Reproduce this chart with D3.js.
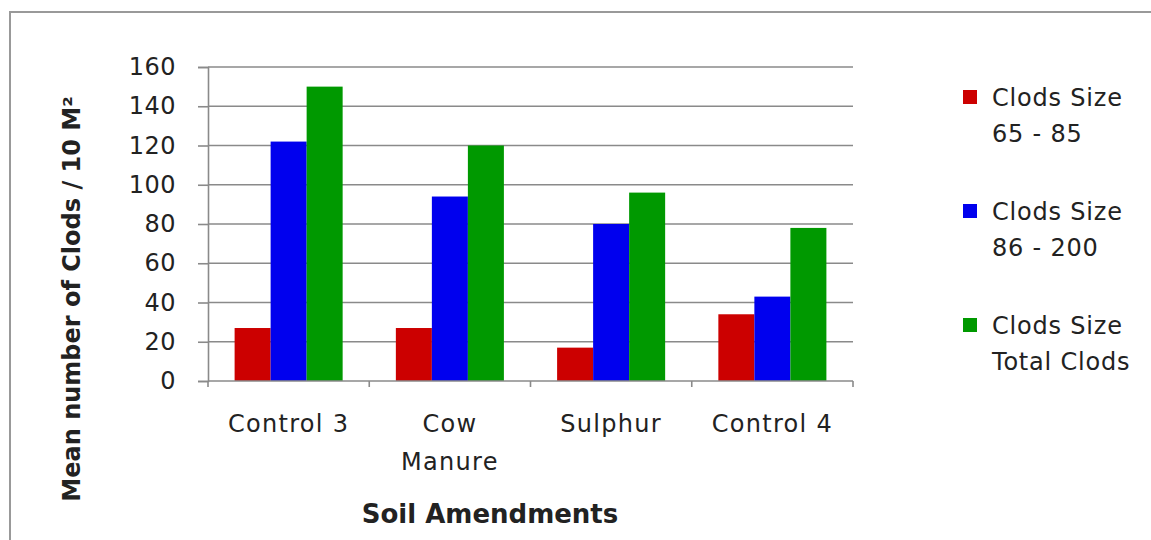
<!DOCTYPE html>
<html><head><meta charset="utf-8">
<script src="https://cdnjs.cloudflare.com/ajax/libs/d3/7.8.5/d3.min.js"></script>
<style>body{margin:0;background:#fff}svg{display:block}text{font-family:"DejaVu Sans",sans-serif;fill:#222}</style>
</head><body><svg id="c" width="1151" height="540"></svg>
<script>
const categories = [["Control 3"], ["Cow", "Manure"], ["Sulphur"], ["Control 4"]];
const seriesNames = [["Clods Size", "65 - 85"], ["Clods Size", "86 - 200"], ["Clods Size", "Total Clods"]];
const seriesColors = ["#cc0000", "#0000ee", "#009900"];
const small = [27, 27, 17, 34];
const medium = [122, 94, 80, 43];
const total = [150, 120, 96, 78];
const yTicks = [0, 20, 40, 60, 80, 100, 120, 140, 160];
const yTitle = "Mean number of Clods / 10 M²";
const xTitle = "Soil Amendments";

const series = [small, medium, total];
const svg = d3.select("#c");
svg.append("rect").attr("x", 10).attr("y", 12).attr("width", 1150).attr("height", 540)
  .attr("fill", "#fff").attr("stroke", "#999").attr("stroke-width", 2);

const L = 208, R = 853, T = 67, B = 381;
const catIdx = categories.map((d, i) => i);
const x0 = d3.scaleBand().domain(catIdx).range([L, R]).paddingInner(0.33).paddingOuter(0.165);
const x1 = d3.scaleBand().domain([0, 1, 2]).range([0, x0.bandwidth()]);
const y = d3.scaleLinear().domain([0, 160]).range([B, T]);

// gridlines
svg.append("g").selectAll("line").data(yTicks.filter(t => t > 0)).join("line")
  .attr("x1", L).attr("x2", R).attr("y1", d => y(d)).attr("y2", d => y(d))
  .attr("stroke", "#8a8a8a").attr("stroke-width", 1.6);

// bars
const g = svg.append("g");
catIdx.forEach(ci => {
  series.forEach((s, si) => {
    g.append("rect").attr("x", x0(ci) + x1(si)).attr("width", x1.bandwidth())
      .attr("y", y(s[ci])).attr("height", y(0) - y(s[ci])).attr("fill", seriesColors[si]);
  });
});

// y axis
const ya = svg.append("g").attr("transform", `translate(${L},0)`)
  .call(d3.axisLeft(y).tickValues(yTicks).tickSize(10).tickPadding(22));
ya.select(".domain").attr("stroke", "#8a8a8a").attr("stroke-width", 1.6);
ya.selectAll(".tick line").attr("stroke", "#8a8a8a").attr("stroke-width", 1.6);
ya.selectAll(".tick text").attr("font-size", 24).attr("letter-spacing", 0.5).attr("font-family", "DejaVu Sans").attr("fill", "#222");

// x axis
const xa = svg.append("g").attr("transform", `translate(0,${B})`);
xa.append("line").attr("x1", L).attr("x2", R).attr("stroke", "#8a8a8a").attr("stroke-width", 1.6);
const step = x0.step();
const bounds = catIdx.map(i => x0(i) - x0.paddingInner() * step / 2).concat([R]);
xa.selectAll(".tk").data(bounds).join("line").attr("x1", d => d).attr("x2", d => d)
  .attr("y1", 0).attr("y2", 6).attr("stroke", "#8a8a8a").attr("stroke-width", 1.6);
catIdx.forEach(ci => {
  const t = xa.append("text").attr("text-anchor", "middle").attr("font-size", 24)
    .attr("letter-spacing", 1.3)
    .attr("x", x0(ci) + x0.bandwidth() / 2).attr("y", 51);
  categories[ci].forEach((line, li) => t.append("tspan").attr("x", x0(ci) + x0.bandwidth() / 2)
    .attr("dy", li === 0 ? 0 : 38).text(line));
});

// titles
svg.append("text").attr("text-anchor", "middle").attr("font-weight", "bold").attr("font-size", 24)
  .attr("transform", "translate(80,299) rotate(-90)").text(yTitle);
svg.append("text").attr("text-anchor", "middle").attr("font-weight", "bold").attr("font-size", 26)
  .attr("x", 490).attr("y", 523).text(xTitle);

// legend
const legY = [98, 212, 326];
seriesNames.forEach((nm, i) => {
  svg.append("rect").attr("x", 963).attr("y", legY[i] - 8).attr("width", 14).attr("height", 14)
    .attr("fill", seriesColors[i]);
  const t = svg.append("text").attr("font-size", 24).attr("letter-spacing", 0.8).attr("x", 992).attr("y", legY[i] + 8);
  nm.forEach((line, li) => t.append("tspan").attr("x", 992).attr("dy", li === 0 ? 0 : 36).text(line));
});
</script></body></html>
